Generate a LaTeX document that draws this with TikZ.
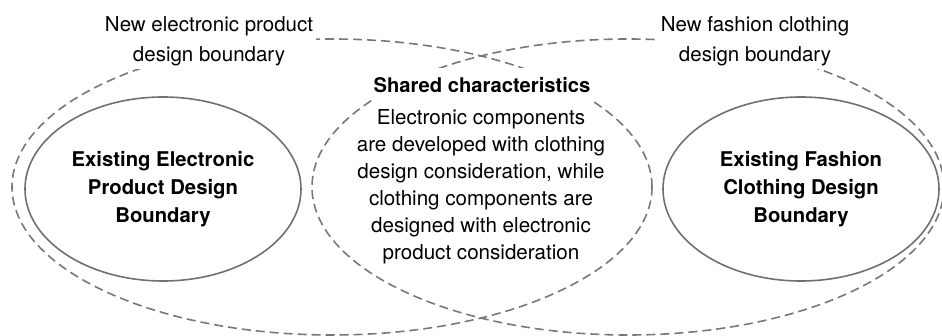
\documentclass[tikz,border=0pt]{standalone}
\usepackage{fontspec}
\setmainfont{TeX Gyre Heros}
\usetikzlibrary{shapes.geometric}

\definecolor{boundgray}{RGB}{120,120,120}
\definecolor{oldgray}{RGB}{112,112,112}

\tikzset{
  newbound/.style={ellipse, draw=boundgray, line width=1.6pt,
    dash pattern=on 9pt off 5pt, inner sep=0pt},
  oldbound/.style={ellipse, draw=oldgray, line width=1.6pt, inner sep=0pt,
    minimum width=276pt, minimum height=184pt, align=center,
    font=\bfseries\fontsize{20.3}{28}\selectfont},
  boundlabel/.style={fill=white, align=center, inner sep=3pt,
    font=\fontsize{20.5}{30}\selectfont}
}

\begin{document}
\begin{tikzpicture}[x=1pt, y=-1pt]
  \useasboundingbox (0,0) rectangle (942,336);

  % New (extended) boundaries, dashed
  \node[newbound, minimum width=640pt, minimum height=296pt] (elecnew) at (332,187) {};
  \node[newbound, minimum width=632pt, minimum height=296pt] (fashnew) at (628,187) {};

  % Labels of the new boundaries
  \node[boundlabel] (eleclabel) at (209,41) {New electronic product\\design boundary};
  \node[boundlabel] (fashlabel) at (755,41) {New fashion clothing\\design boundary};

  % Overlap of both boundaries
  \node[fill=white, inner xsep=2pt, inner ysep=9pt,
    font=\bfseries\fontsize{20.2}{27}\selectfont] (sharedhead) at (482,85) {Shared characteristics};
  \node[align=center, inner sep=0pt, font=\fontsize{20.6}{27}\selectfont] (sharedtext) at (481,187)
    {Electronic components\\are developed with clothing\\design consideration, while\\clothing components are\\designed with electronic\\product consideration};

  % Existing boundaries, solid
  \node[oldbound] (elecold) at (163,189) {Existing Electronic\\Product Design\\Boundary};
  \node[oldbound] (fashold) at (801,189) {Existing Fashion\\Clothing Design\\Boundary};
\end{tikzpicture}
\end{document}
